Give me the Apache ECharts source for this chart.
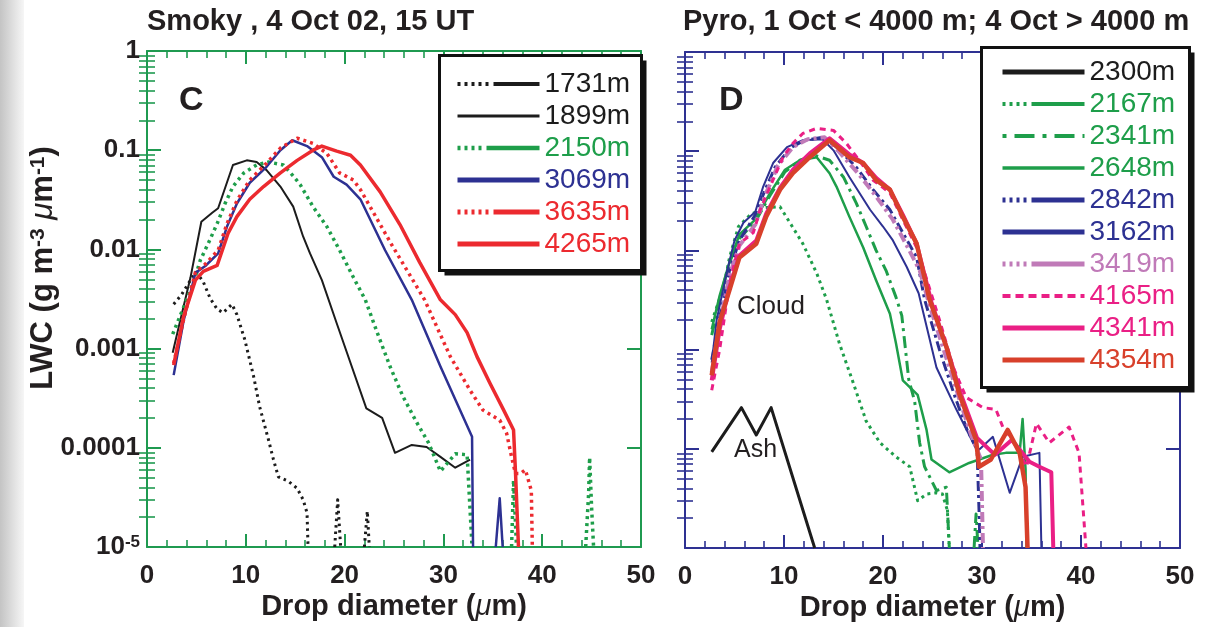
<!DOCTYPE html>
<html>
<head>
<meta charset="utf-8">
<script src="https://cdn.jsdelivr.net/npm/echarts@6/dist/echarts.min.js"></script>
<style>
  html, body { margin: 0; padding: 0; background: #fff; }
  #chart { width: 1207px; height: 627px; }
</style>
</head>
<body>
<div id="chart"></div>
<script>
// Liquid water content spectra versus drop diameter, two flight cases.

// Axis tick labels
const xTickText = ['0', '10', '20', '30', '40', '50'];
const yTickExp = [-5, -4, -3, -2, -1, 0];
const yTickText = ['10{sup|-5}', '0.0001', '0.001', '0.01', '0.1', '1'];
const minorMult = [2, 3, 4, 5, 6, 7, 8, 9];

// Panel C — Smoky, 4 Oct 02, 15 UT.  Pairs: [diameter (µm), LWC (g m-3 µm-1)], null = gap
const smoky1731 = [[2.7,0.0028],[3.5,0.0035],[4.4,0.0049],[5.0,0.0059],[5.7,0.0047],[6.4,0.0032],[7.1,0.0025],[7.7,0.0023],[8.6,0.0028],[9.1,0.0022],[9.9,0.00123],[10.8,0.00052],[11.4,0.00026],[12.3,0.00012],[12.8,0.000076],[13.3,0.000051],[14.3,0.000046],[15.2,0.000039],[15.8,0.00003],[16.2,0.000022],[16.3,0.00001], null, [19.0,0.00001],[19.3,0.00003],[19.6,0.00001], null, [22.0,0.00001],[22.3,0.000023],[22.5,0.00001]];
const smoky1899 = [[2.6,0.00091],[3.3,0.0018],[4.4,0.0052],[5.5,0.019],[6.6,0.0234],[7.2,0.026],[8.7,0.071],[10.1,0.079],[11.1,0.076],[12.1,0.063],[13.5,0.043],[14.8,0.027],[15.8,0.0135],[16.5,0.0091],[17.7,0.0049],[19.2,0.0018],[22.2,0.00025],[23.8,0.0002],[25.1,0.000089],[26.8,0.000107],[28.3,0.000102],[29.7,0.000081],[31.2,0.000063],[32.7,0.000076]];
const smoky2150 = [[2.6,0.0014],[3.7,0.0026],[4.7,0.0046],[5.4,0.0078],[6.2,0.0115],[7.1,0.0182],[7.9,0.029],[8.7,0.043],[9.8,0.059],[11.1,0.071],[12.3,0.076],[13.8,0.071],[14.8,0.055],[15.5,0.045],[16.8,0.027],[18.2,0.017],[19.5,0.0098],[20.9,0.0052],[22.1,0.0031],[23.3,0.00145],[24.6,0.00066],[25.9,0.00033],[27.3,0.00018],[28.5,0.000112],[29.7,0.000058],[31.2,0.000087],[32.4,0.000085],[32.9,0.00001], null, [36.9,0.00001],[37.1,0.000047],[37.4,0.00001], null, [44.4,0.00001],[44.7,0.000035],[44.8,0.00008],[45.0,0.000025],[45.2,0.00001]];
const smoky3069 = [[2.7,0.00054],[3.7,0.0019],[4.9,0.0058],[5.9,0.0068],[7.2,0.0091],[8.1,0.017],[9.1,0.029],[10.4,0.047],[12.1,0.068],[13.5,0.100],[14.7,0.126],[16.2,0.110],[17.7,0.085],[18.9,0.054],[20.2,0.045],[21.6,0.032],[24.1,0.0098],[26.8,0.0031],[29.7,0.00066],[32.9,0.000129],[33.0,0.00001], null, [35.3,0.00001],[35.7,0.000031],[36.0,0.00001]];
const smoky3635 = [[2.7,0.00071],[3.7,0.00195],[4.9,0.0059],[5.9,0.0071],[7.2,0.0098],[8.1,0.0182],[9.1,0.031],[10.4,0.050],[12.1,0.074],[13.5,0.105],[15.2,0.132],[16.8,0.117],[18.2,0.093],[19.5,0.059],[20.9,0.050],[21.6,0.040],[24.8,0.011],[28.1,0.0031],[30.7,0.00083],[32.7,0.00038],[34.0,0.00024],[35.7,0.00019],[36.4,0.00014],[36.9,0.000081],[37.3,0.000055],[37.8,0.000055],[38.3,0.00006],[38.9,0.000037],[39.0,0.00001]];
const smoky4265 = [[2.7,0.00068],[3.7,0.0021],[4.9,0.0049],[5.7,0.006],[7.1,0.0069],[8.2,0.0145],[9.1,0.0214],[10.4,0.032],[11.8,0.043],[13.5,0.059],[15.2,0.079],[16.8,0.100],[17.7,0.110],[19.2,0.098],[20.6,0.089],[21.6,0.071],[23.6,0.038],[25.6,0.0178],[27.6,0.0074],[29.7,0.0031],[31.2,0.0022],[32.4,0.00145],[33.4,0.00083],[34.7,0.00045],[36.1,0.00024],[37.1,0.000151],[37.3,0.000056],[37.6,0.00001]];

// Panel D — Pyro, 1 Oct below 4000 m, 4 Oct above 4000 m
const pyro2300 = [[2.7,0.000093],[5.7,0.00026],[7.2,0.000138],[8.7,0.00026],[13.1,0.00001]];
const pyro2167 = [[2.7,0.0019],[3.9,0.0043],[4.5,0.0085],[5.4,0.0174],[6.6,0.0229],[8.1,0.027],[9.6,0.0275],[10.6,0.019],[11.9,0.0117],[13.3,0.0059],[14.3,0.0032],[15.6,0.00115],[17.0,0.00046],[18.3,0.00019],[19.7,0.000115],[21.3,0.000083],[22.7,0.000066],[23.5,0.00003],[24.4,0.000035],[25.4,0.000036],[26.0,0.000035],[26.5,0.000024],[26.7,0.00001]];
const pyro2341 = [[2.7,0.0014],[3.5,0.0032],[4.5,0.0076],[5.5,0.0132],[7.1,0.0195],[8.6,0.036],[10.1,0.062],[11.6,0.081],[13.1,0.091],[14.6,0.081],[16.0,0.055],[17.3,0.030],[18.3,0.0174],[19.3,0.010],[20.3,0.0063],[21.3,0.0034],[21.9,0.0022],[22.6,0.0005],[23.2,0.0003],[23.7,0.000115],[24.2,0.000066],[25.4,0.000038],[26.4,0.000041],[26.7,0.00001], null, [29.2,0.00001],[29.4,0.000022],[29.6,0.00001]];
const pyro2648 = [[2.7,0.0016],[3.5,0.0035],[4.5,0.0076],[5.5,0.0145],[7.1,0.0204],[8.6,0.038],[10.1,0.065],[11.6,0.081],[13.3,0.087],[14.6,0.060],[15.3,0.044],[16.6,0.0219],[18.0,0.0107],[19.3,0.005],[20.7,0.0023],[21.3,0.00117],[22.0,0.00049],[23.5,0.00035],[24.4,0.000155],[24.9,0.000078],[26.7,0.000058],[28.7,0.000072],[31.1,0.000087],[32.4,0.000091],[33.8,0.000091],[34.1,0.0002],[34.4,0.000062],[34.5,0.00001]];
const pyro2842 = [[2.7,0.00079],[3.5,0.0021],[4.5,0.0063],[5.5,0.0126],[7.1,0.0229],[8.1,0.041],[9.1,0.069],[10.6,0.107],[12.1,0.129],[13.9,0.138],[15.3,0.110],[17.3,0.069],[19.0,0.041],[20.7,0.0257],[22.0,0.0151],[23.4,0.0085],[24.2,0.0032],[25.7,0.001],[27.2,0.00035],[28.5,0.000155],[29.5,0.000098],[29.7,0.000024],[29.8,0.00001]];
const pyro3162 = [[2.7,0.00074],[3.2,0.002],[4.2,0.0059],[5.0,0.0126],[5.9,0.019],[7.1,0.0245],[7.9,0.044],[8.9,0.076],[10.3,0.110],[11.9,0.129],[13.9,0.132],[15.0,0.102],[16.6,0.055],[18.7,0.0257],[20.0,0.0174],[21.0,0.0126],[22.4,0.0068],[23.6,0.0037],[25.4,0.00066],[27.4,0.00025],[29.1,0.000115],[29.7,0.000098],[31.1,0.000132],[32.8,0.000036],[34.1,0.000083],[35.8,0.000091],[36.0,0.00001]];
const pyro3419 = [[2.7,0.00059],[3.5,0.0018],[4.5,0.0056],[5.5,0.0112],[7.1,0.0182],[8.1,0.036],[9.4,0.072],[10.9,0.110],[12.4,0.132],[14.1,0.138],[15.6,0.098],[17.6,0.058],[19.3,0.035],[21.0,0.0204],[22.4,0.0112],[23.7,0.0063],[24.7,0.0028],[26.2,0.00095],[27.7,0.00032],[28.9,0.000138],[29.9,0.000078],[30.1,0.00001]];
const pyro4165 = [[2.7,0.00039],[3.5,0.001],[4.5,0.0047],[5.5,0.0117],[6.9,0.0151],[7.6,0.0257],[8.6,0.044],[9.9,0.087],[10.9,0.120],[11.9,0.151],[13.3,0.170],[15.0,0.162],[16.3,0.120],[17.6,0.081],[19.0,0.051],[20.7,0.038],[22.0,0.0204],[23.4,0.0107],[25.7,0.002],[27.1,0.00066],[28.4,0.00033],[30.1,0.00026],[31.4,0.00025],[32.1,0.000166],[33.1,0.000123],[34.5,0.000066],[35.5,0.00018],[36.8,0.000115],[38.8,0.000166],[39.8,0.000091],[40.5,0.00001]];
const pyro4341 = [[2.7,0.00049],[3.5,0.0016],[4.5,0.0043],[5.5,0.0089],[7.2,0.0126],[8.2,0.0234],[9.6,0.043],[10.9,0.065],[12.6,0.095],[14.6,0.135],[16.6,0.093],[18.0,0.076],[19.3,0.054],[20.7,0.041],[22.0,0.0229],[23.4,0.0117],[24.9,0.003],[26.5,0.001],[27.9,0.00035],[29.5,0.000129],[31.3,0.000087],[33.0,0.000123],[34.8,0.000074],[35.8,0.000066],[37.0,0.000058],[37.2,0.00001]];
const pyro4354 = [[2.7,0.00055],[3.5,0.0019],[4.5,0.004],[5.5,0.0085],[7.2,0.0117],[8.2,0.0219],[9.6,0.041],[10.9,0.060],[12.6,0.087],[14.6,0.129],[16.6,0.087],[18.0,0.076],[19.3,0.051],[20.7,0.041],[22.0,0.0219],[23.4,0.0117],[24.7,0.0032],[26.4,0.00107],[27.7,0.00036],[29.4,0.000123],[29.7,0.000066],[30.9,0.000078],[32.6,0.000155],[33.8,0.000091],[34.4,0.000041],[34.6,0.00001]];

const FONT = '"Liberation Sans", Arial, Helvetica, sans-serif';
const INK = '#231f20';
const GREEN_AXIS = '#1f9a50';
const NAVY_AXIS = '#2e3192';
const C_BLACK = '#1c1c1c', C_GREEN = '#1e9e4a', C_BLUE = '#2d3192', C_RED = '#ec2a2f';
const C_LILAC = '#c07ab8', C_PINK = '#ea1f85', C_ORANGE = '#d8402b';

// Dash patterns: curves, and the legend samples (dots leading into a long stroke)
const DOTS = [3, 4];
const DASH_DOT = [12, 5, 3, 5];
const DOTS_THEN_LINE = [3, 4, 3, 4, 3, 4, 3, 4, 3, 5, 60, 0];
const SHORT_DOTS_THEN_LINE = [3, 4, 3, 4, 3, 4, 3, 5, 70, 0];

// log10 positions of the minor ticks (2..9 × each decade)
const minorLogs = [];
for (let e = -5; e < 0; e++) minorMult.forEach(m => minorLogs.push(e + Math.log10(m)));

function toData(pts) { return pts.map(p => p === null ? ['-', '-'] : p); }

function line(name, pts, color, width, dash, panel) {
  return {
    type: 'line', name, data: toData(pts),
    xAxisIndex: panel ? 2 : 0, yAxisIndex: panel ? 4 : 0,
    symbol: 'none', showSymbol: false, connectNulls: false, clip: true,
    lineStyle: { color, width, type: dash || 'solid', cap: 'butt', join: 'round' },
    itemStyle: { color },
    emphasis: { disabled: true }, silent: true
  };
}

function xAxes(grid, color) {
  const base = {
    gridIndex: grid, type: 'value', min: 0, max: 50, interval: 10,
    axisLine: { show: true, onZero: false, lineStyle: { color, width: 2 } },
    axisTick: { show: true, inside: true, length: 13, lineStyle: { color, width: 2 } },
    minorTick: { show: true, splitNumber: 5, length: 7, lineStyle: { color, width: 1.6 } },
    splitLine: { show: false }, minorSplitLine: { show: false }
  };
  return [
    Object.assign({}, base, {
      position: 'bottom',
      axisLabel: {
        show: true, margin: 16, color: INK, fontSize: 26, fontWeight: 'bold', fontFamily: FONT,
        showMinLabel: true, showMaxLabel: true,
        formatter: v => xTickText[Math.round(v / 10)]
      },
      name: 'Drop diameter ({mu|μ}m)', nameLocation: 'middle', nameGap: 45, nameMoveOverlap: false,
      nameTextStyle: {
        color: INK, fontSize: 29, fontWeight: 'bold', fontFamily: FONT,
        rich: { mu: { fontSize: 29, fontStyle: 'italic', fontWeight: 'normal', fontFamily: FONT, color: INK } }
      }
    }),
    Object.assign({}, base, { position: 'top', axisLabel: { show: false } })
  ];
}

function yAxes(grid, color, withLabels) {
  const major = {
    gridIndex: grid, type: 'log', logBase: 10, min: 1e-5, max: 1,
    axisLine: { show: true, onZero: false, lineStyle: { color, width: 2 } },
    axisTick: { show: true, inside: true, length: 14, lineStyle: { color, width: 2 } },
    splitLine: { show: false }, minorTick: { show: false }
  };
  const minor = {
    gridIndex: grid, type: 'value', min: -5, max: 0,
    axisLine: { show: false }, axisLabel: { show: false }, splitLine: { show: false },
    axisTick: { show: true, inside: true, length: 8, customValues: minorLogs, lineStyle: { color, width: 1.6 } }
  };
  const left = Object.assign({}, major, { position: 'left' });
  if (withLabels) {
    left.axisLabel = {
      show: true, margin: 7, color: INK, fontSize: 26, fontWeight: 'bold', fontFamily: FONT,
      showMinLabel: true, showMaxLabel: true,
      formatter: v => yTickText[yTickExp.indexOf(Math.round(Math.log10(v)))],
      rich: { sup: { fontSize: 17, fontWeight: 'bold', fontFamily: FONT, color: INK, verticalAlign: 'top', lineHeight: 16 } }
    };
    left.name = 'LWC (g m{sup|-3} {mu|μ}m{sup|-1})';
    left.nameLocation = 'middle';
    left.nameGap = 88;
    left.nameMoveOverlap = false;
    left.nameTextStyle = {
      color: INK, fontSize: 31, fontWeight: 'bold', fontFamily: FONT, padding: [0, 0, 0, 62],
      rich: {
        sup: { fontSize: 21, fontWeight: 'bold', fontFamily: FONT, color: INK, verticalAlign: 'top', lineHeight: 18 },
        mu: { fontSize: 31, fontStyle: 'italic', fontWeight: 'normal', fontFamily: FONT, color: INK }
      }
    };
  } else {
    left.axisLabel = { show: false };
  }
  return [
    left,
    Object.assign({}, minor, { position: 'left' }),
    Object.assign({}, major, { position: 'right', axisLabel: { show: false } }),
    Object.assign({}, minor, { position: 'right' })
  ];
}

function legendBox(items, left, top, padding) {
  return {
    data: items.map(([name, color, w, dash]) => ({
      name, textStyle: { color }, lineStyle: { width: w, type: dash || 'solid' }
    })),
    orient: 'vertical', left, top, padding,
    itemWidth: 82, itemHeight: 14, itemGap: 4, selectedMode: false,
    backgroundColor: 'transparent', borderWidth: 0,
    itemStyle: { opacity: 0, borderWidth: 0 },
    textStyle: { fontSize: 28, lineHeight: 26, fontFamily: FONT, color: INK }
  };
}

// framed legend panel: offset black shadow, then white box with black border
function frame(x, y, w, h) {
  return [
    { type: 'rect', z: 3, silent: true, shape: { x: x + 5, y: y + 5, width: w, height: h }, style: { fill: '#111' } },
    { type: 'rect', z: 3, silent: true, shape: { x, y, width: w, height: h }, style: { fill: '#fff', stroke: '#111', lineWidth: 3 } }
  ];
}

const series = [
  line('1731m', smoky1731, C_BLACK, 3, [2.5, 4], 0),
  line('1899m', smoky1899, C_BLACK, 2, 'solid', 0),
  line('2150m', smoky2150, C_GREEN, 3.5, DOTS, 0),
  line('3069m', smoky3069, C_BLUE, 2.5, 'solid', 0),
  line('3635m', smoky3635, C_RED, 3.5, DOTS, 0),
  line('4265m', smoky4265, C_RED, 3.5, 'solid', 0),

  line('2300m', pyro2300, C_BLACK, 3, 'solid', 1),
  line('2167m', pyro2167, C_GREEN, 3, DOTS, 1),
  line('2341m', pyro2341, C_GREEN, 3, DASH_DOT, 1),
  line('2648m', pyro2648, C_GREEN, 2.5, 'solid', 1),
  line('2842m', pyro2842, C_BLUE, 3, [10, 4, 3, 4], 1),
  line('3162m', pyro3162, C_BLUE, 2, 'solid', 1),
  line('3419m', pyro3419, C_LILAC, 4, [10, 4, 3, 4], 1),
  line('4341m', pyro4341, C_PINK, 4, 'solid', 1),
  line('4165m', pyro4165, C_PINK, 3, [6, 5], 1),
  line('4354m', pyro4354, C_ORANGE, 4.5, 'solid', 1)
];

const option = {
  animation: false,
  backgroundColor: '#fff',
  title: [
    { text: 'Smoky , 4 Oct 02, 15 UT', left: 147, top: 7, padding: 0,
      textStyle: { fontSize: 29, fontWeight: 'bold', color: INK, fontFamily: FONT } },
    { text: 'Pyro, 1 Oct < 4000 m; 4 Oct > 4000 m', left: 683, top: 7, padding: 0,
      textStyle: { fontSize: 29, fontWeight: 'bold', color: INK, fontFamily: FONT } }
  ],
  grid: [
    { left: 147, top: 51, width: 494, height: 496, outerBoundsMode: 'none', containLabel: false },
    { left: 685, top: 52, width: 495, height: 496, outerBoundsMode: 'none', containLabel: false }
  ],
  xAxis: [...xAxes(0, GREEN_AXIS), ...xAxes(1, NAVY_AXIS)],
  yAxis: [...yAxes(0, GREEN_AXIS, true), ...yAxes(1, NAVY_AXIS, false)],
  legend: [
    legendBox([['1731m', C_BLACK, 4, DOTS_THEN_LINE], ['1899m', C_BLACK, 3], ['2150m', C_GREEN, 4.5, SHORT_DOTS_THEN_LINE],
               ['3069m', C_BLUE, 5], ['3635m', C_RED, 5, DOTS_THEN_LINE], ['4265m', C_RED, 5]],
              438, 54, [16, 12, 13, 17]),
    legendBox([['2300m', C_BLACK, 5], ['2167m', C_GREEN, 4, SHORT_DOTS_THEN_LINE], ['2341m', C_GREEN, 4, [4, 8, 20, 8]],
               ['2648m', C_GREEN, 3.5], ['2842m', C_BLUE, 5, SHORT_DOTS_THEN_LINE], ['3162m', C_BLUE, 5],
               ['3419m', C_LILAC, 5, SHORT_DOTS_THEN_LINE], ['4165m', C_PINK, 4, [8, 5]],
               ['4341m', C_PINK, 5], ['4354m', C_ORANGE, 5]],
              980, 47, [11, 10, 15, 20])
  ],
  graphic: [
    { type: 'rect', left: 0, top: 0, z: -10, silent: true,
      shape: { width: 24, height: 627 },
      style: { fill: new echarts.graphic.LinearGradient(0, 0, 1, 0, [
        { offset: 0, color: '#c4c4c4' }, { offset: 1, color: '#f6f6f6' }]) } },
    ...frame(439.5, 55.5, 202, 215),
    ...frame(981.5, 47.5, 208, 340),
    { type: 'text', left: 179, top: 84, silent: true,
      style: { text: 'C', font: 'bold 34px ' + FONT, fill: INK } },
    { type: 'text', left: 719, top: 84, silent: true,
      style: { text: 'D', font: 'bold 34px ' + FONT, fill: INK } },
    { type: 'text', left: 737, top: 294, silent: true,
      style: { text: 'Cloud', font: '26px ' + FONT, fill: INK } },
    { type: 'text', left: 734, top: 438, silent: true,
      style: { text: 'Ash', font: '25px ' + FONT, fill: INK } }
  ],
  series
};

const chart = echarts.init(document.getElementById('chart'), null, { renderer: 'canvas' });
chart.setOption(option);
</script>
</body>
</html>
